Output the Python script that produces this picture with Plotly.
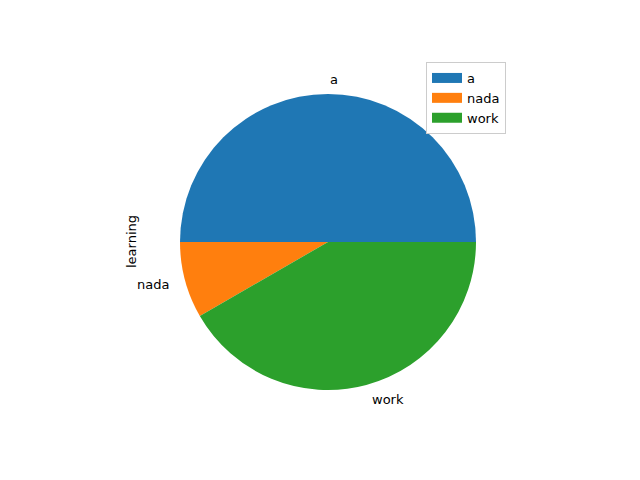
import math
import plotly.graph_objects as go

labels = ["a", "nada", "work"]
values = [6, 1, 5]
colors = ["#1f77b4", "#ff7f0e", "#2ca02c"]
ylabel = "learning"

W, H = 640, 480
cx, cy, r = 328, 242, 148  # pixel center/radius of the pie
FONT = "DejaVu Sans"

fig = go.Figure()
fig.add_trace(go.Pie(
    labels=labels, values=values, sort=False, direction="counterclockwise",
    rotation=-90, marker=dict(colors=colors, line=dict(width=0)),
    textinfo="none", hoverinfo="label+value", showlegend=False,
    domain=dict(x=[(cx - r) / W, (cx + r) / W], y=[1 - (cy + r) / H, 1 - (cy - r) / H]),
))

# legend entries as wide patches
for lab, col in zip(labels, colors):
    fig.add_trace(go.Scatter(x=[None], y=[None], mode="lines", name=lab,
                             line=dict(color=col, width=10)))

# outside labels at 1.1 radius, matplotlib-style alignment
total = sum(values)
start = 0.0
for lab, v in zip(labels, values):
    theta = (start + v / 2) / total * 2 * math.pi
    start += v
    xt = 1.1 * r * math.cos(theta)
    yt = 1.1 * r * math.sin(theta)
    fig.add_annotation(x=(cx + xt) / W, y=1 - (cy - yt) / H, xref="paper", yref="paper",
                       text=lab, showarrow=False,
                       xanchor="left" if xt > 0 else "right", yanchor="middle",
                       font=dict(family=FONT, size=13, color="black"))

fig.add_annotation(x=131 / W, y=1 - 242 / H, xref="paper", yref="paper", text=ylabel,
                   textangle=-90, showarrow=False, xanchor="center", yanchor="middle",
                   font=dict(family=FONT, size=13, color="black"))

fig.update_layout(
    width=W, height=H, margin=dict(l=0, r=0, t=0, b=0),
    paper_bgcolor="white", plot_bgcolor="white",
    xaxis=dict(visible=False), yaxis=dict(visible=False),
    font=dict(family=FONT, size=13, color="black"),
    legend=dict(x=506 / W, y=1 - 62 / H, xanchor="right", yanchor="top",
                bgcolor="white", bordercolor="#cccccc", borderwidth=1,
                font=dict(family=FONT, size=13), tracegroupgap=0),
)
fig.write_html("out.html", config={"displayModeBar": False},
               post_script="document.body.style.margin='0';")
